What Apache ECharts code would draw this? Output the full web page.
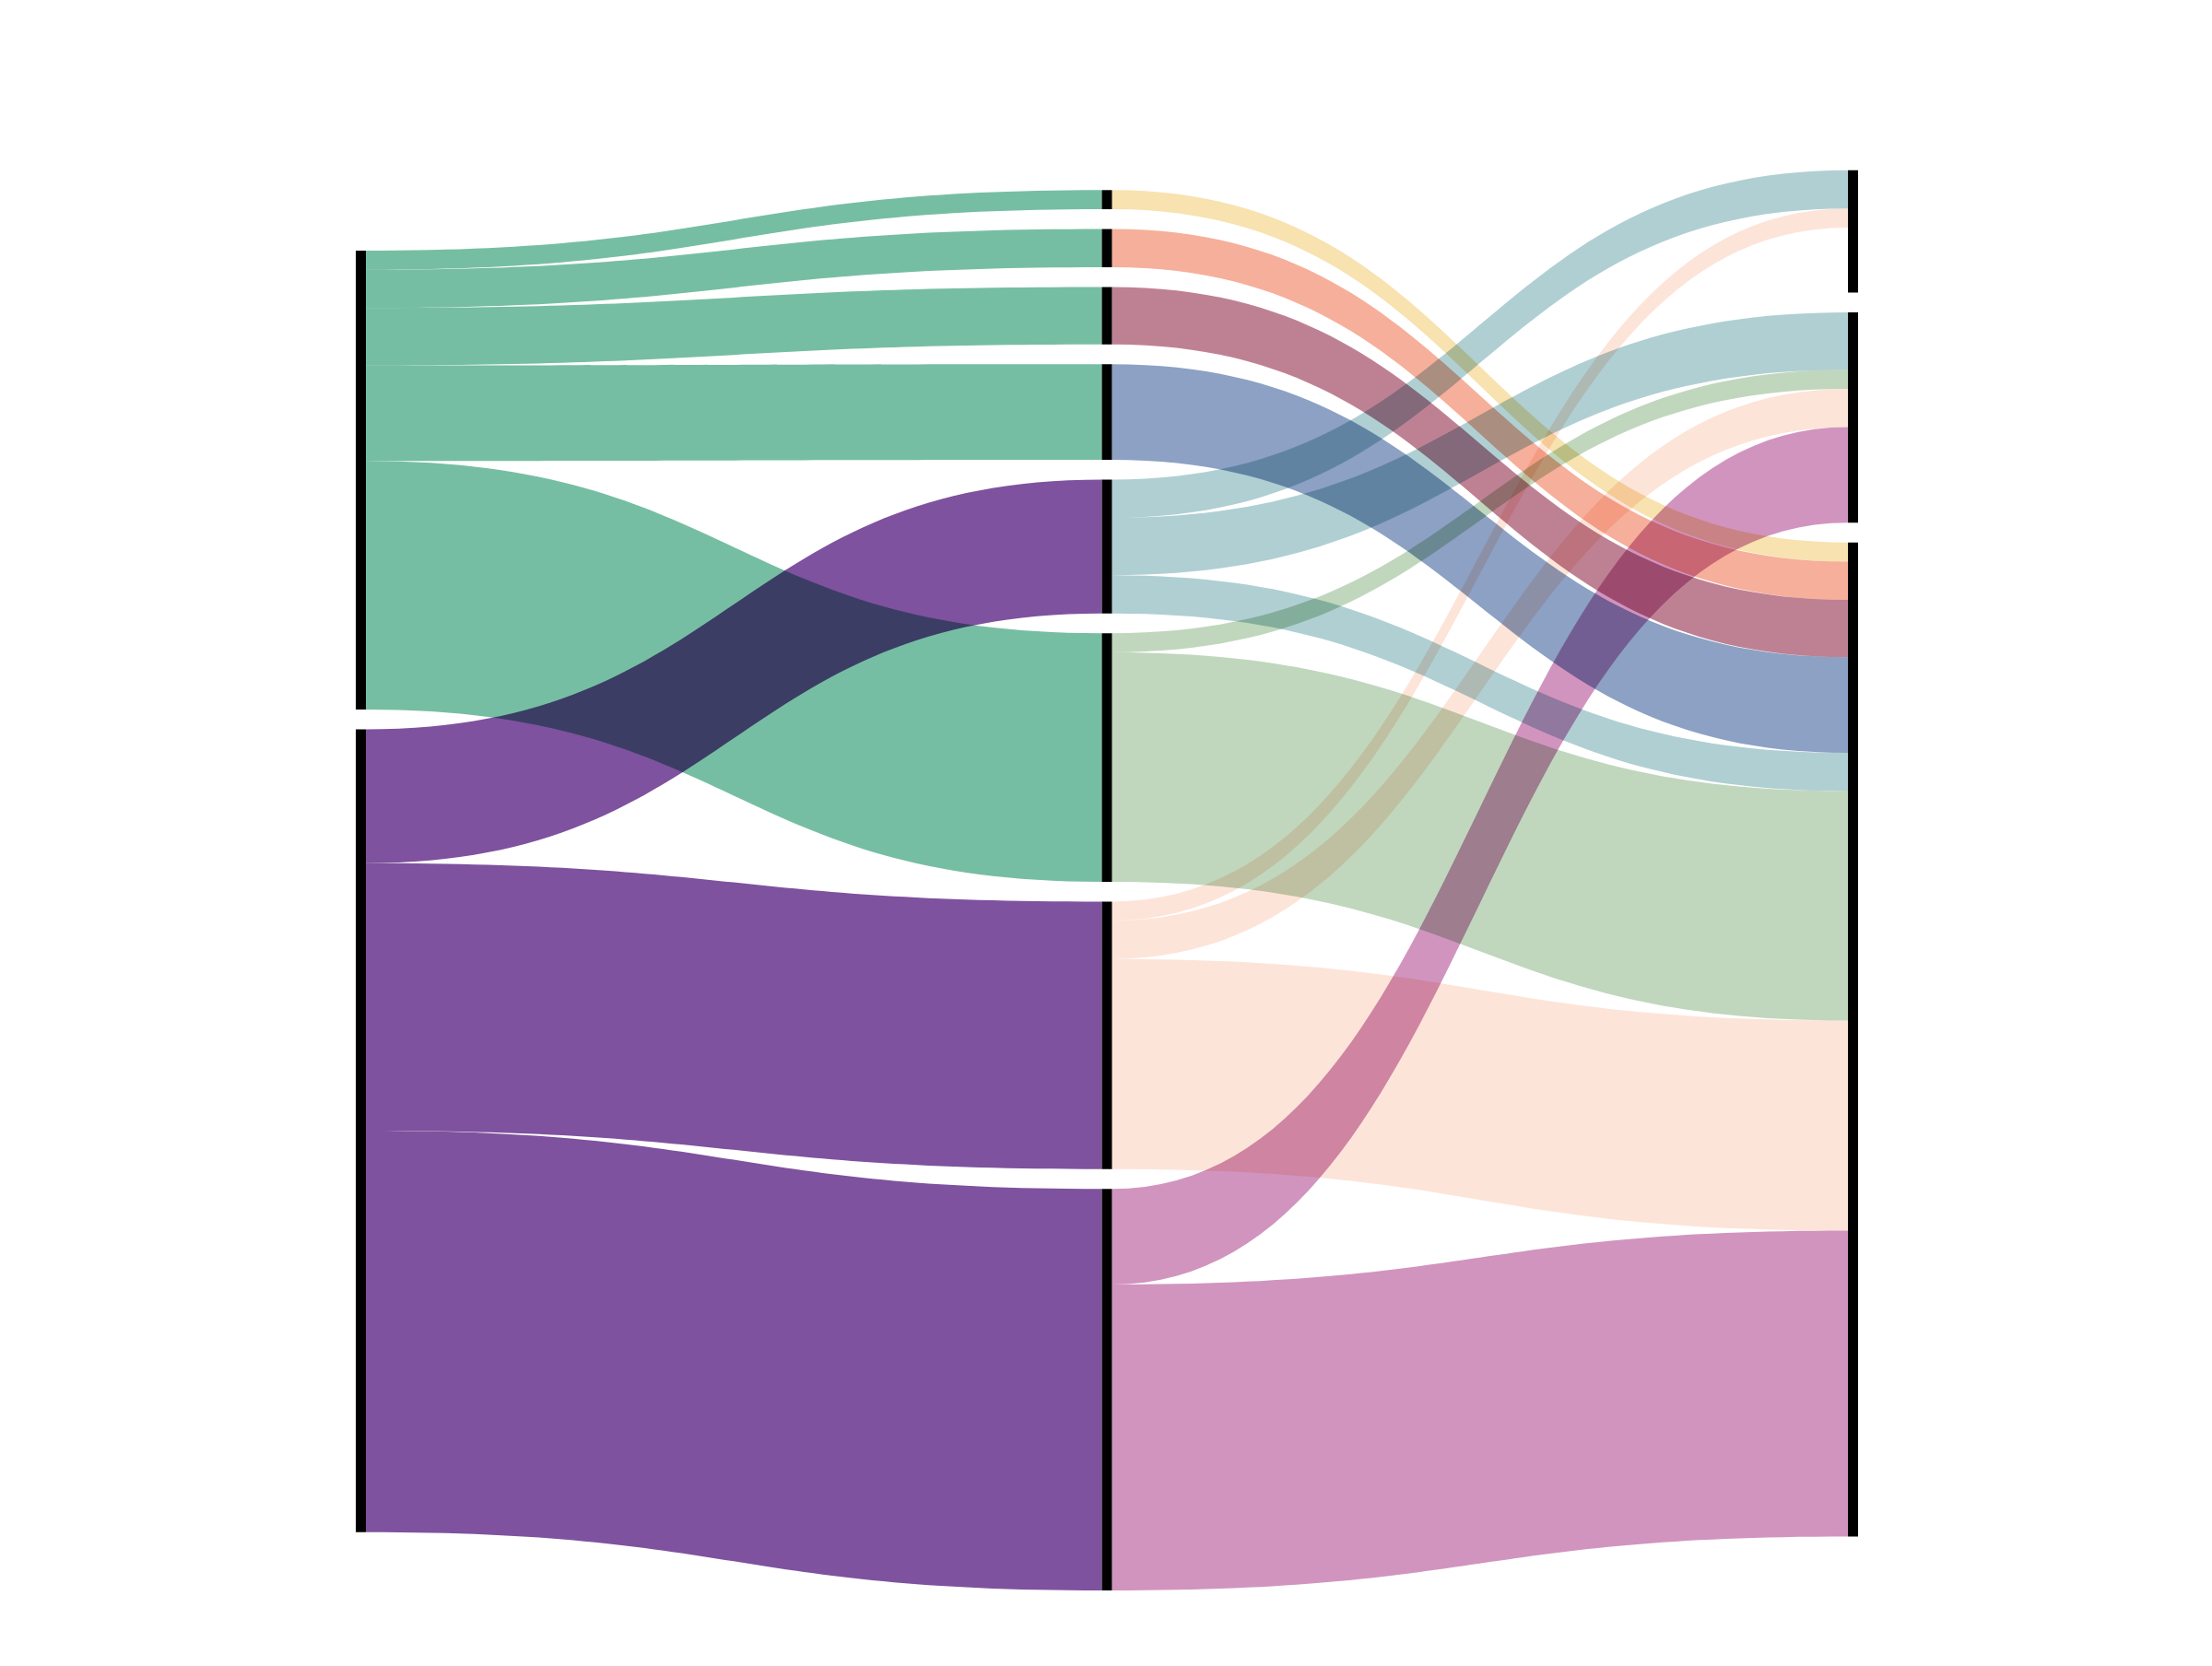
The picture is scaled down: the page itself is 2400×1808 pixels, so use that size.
<!DOCTYPE html>
<html>
<head>
<meta charset="utf-8">
<script src="https://cdn.jsdelivr.net/npm/echarts@6/dist/echarts.min.js"></script>
<style>
html,body{margin:0;padding:0;background:#ffffff;}
#chart{width:2400px;height:1808px;}
</style>
</head>
<body>
<div id="chart"></div>
<script>
// ---- data ----
const sourceNodes = ['Group A', 'Group B'];
const middleNodes = ['Type 1', 'Type 2', 'Type 3', 'Type 4', 'Type 5', 'Type 6', 'Type 7', 'Type 8'];
const targetNodes = ['Outcome 1', 'Outcome 2', 'Outcome 3'];
// explicit node value for the first outcome bar (its bar is taller than its flows)
const targetNodeValues = [6.4, null, null];

// [source, target, value]
const stage1Links = [
  ['Group A', 'Type 1', 1],
  ['Group A', 'Type 2', 2],
  ['Group A', 'Type 3', 3],
  ['Group A', 'Type 4', 5],
  ['Group A', 'Type 6', 13],
  ['Group B', 'Type 5', 7],
  ['Group B', 'Type 7', 14],
  ['Group B', 'Type 8', 21]
];
const stage2Links = [
  ['Type 1', 'Outcome 3', 1],
  ['Type 2', 'Outcome 3', 2],
  ['Type 3', 'Outcome 3', 3],
  ['Type 4', 'Outcome 3', 5],
  ['Type 5', 'Outcome 1', 2],
  ['Type 5', 'Outcome 2', 3],
  ['Type 5', 'Outcome 3', 2],
  ['Type 6', 'Outcome 2', 1],
  ['Type 6', 'Outcome 3', 12],
  ['Type 7', 'Outcome 1', 1],
  ['Type 7', 'Outcome 2', 2],
  ['Type 7', 'Outcome 3', 11],
  ['Type 8', 'Outcome 2', 5],
  ['Type 8', 'Outcome 3', 16]
];

// ---- layout: empty space kept above each column (in value units) ----
const columnTopPadding = [3.17, 0, null];

// ---- styles ----
const sourceColors = ['#76bea3', '#7e529e'];
const middleColors = ['#f7e2b0', '#f6af9a', '#be8193', '#8ca1c4', '#b0cfd3', '#c0d7bd', '#fde4d9', '#d194bf'];
const nodeColor = '#000000';

const nodes = [];
columnTopPadding.forEach((v, depth) => {
  if (v == null) return;
  nodes.push({
    name: '__pad' + depth, depth: depth, value: v,
    itemStyle: { color: 'rgba(0,0,0,0)', opacity: 0 }, label: { show: false },
    tooltip: { show: false }, silent: true
  });
});
sourceNodes.forEach(n => nodes.push({ name: n, depth: 0, itemStyle: { color: nodeColor } }));
middleNodes.forEach(n => nodes.push({ name: n, depth: 1, itemStyle: { color: nodeColor } }));
targetNodes.forEach((n, i) => {
  const item = { name: n, depth: 2, itemStyle: { color: nodeColor } };
  if (targetNodeValues[i] != null) item.value = targetNodeValues[i];
  nodes.push(item);
});

const links = [];
stage1Links.forEach(l => links.push({
  source: l[0], target: l[1], value: l[2],
  lineStyle: { color: sourceColors[sourceNodes.indexOf(l[0])], opacity: 1 }
}));
stage2Links.forEach(l => links.push({
  source: l[0], target: l[1], value: l[2],
  lineStyle: { color: middleColors[middleNodes.indexOf(l[0])], opacity: 1 }
}));

const chart = echarts.init(document.getElementById('chart'), null, { renderer: 'canvas' });
chart.setOption({
  animation: false,
  backgroundColor: 'transparent',
  series: [{
    type: 'sankey',
    left: 386,
    right: 384,
    top: 184.8,
    bottom: 82,
    nodeWidth: 11,
    nodeGap: 21.5,
    layoutIterations: 0,
    nodeAlign: 'justify',
    draggable: false,
    emphasis: { disabled: true },
    label: { show: false },
    itemStyle: { borderWidth: 0 },
    lineStyle: { curveness: 0.5, opacity: 1 },
    data: nodes,
    links: links
  }]
});

function applyBlend() {
  const zr = chart.getZr();
  zr.storage.getDisplayList(true).forEach(el => {
    if (el.style) {
      el.style.blend = 'multiply';
      if (el.markRedraw) el.markRedraw();
    }
  });
  zr.refreshImmediately();
}
applyBlend();
setTimeout(applyBlend, 0);
requestAnimationFrame(applyBlend);
</script>
</body>
</html>
